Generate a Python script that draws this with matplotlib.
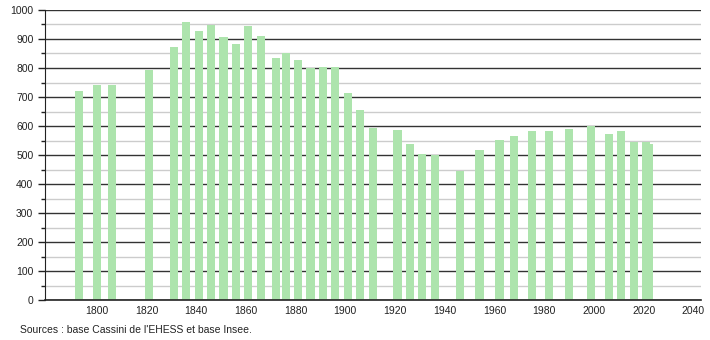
import matplotlib.pyplot as plt
from matplotlib.ticker import MultipleLocator

# census years and population
years = [1793, 1800, 1806, 1821, 1831, 1836, 1841, 1846, 1851, 1856,
         1861, 1866, 1872, 1876, 1881, 1886, 1891, 1896, 1901, 1906,
         1911, 1921, 1926, 1931, 1936, 1946, 1954, 1962, 1968, 1975,
         1982, 1990, 1999, 2006, 2011, 2016, 2021, 2022]
population = [722, 741, 741, 793, 871, 957, 926, 947, 906, 883,
              946, 911, 834, 851, 826, 799, 802, 802, 713, 655,
              594, 586, 538, 503, 499, 446, 517, 552, 566, 583,
              583, 588, 600, 572, 583, 546, 546, 538]

x_ticks = [1800, 1820, 1840, 1860, 1880, 1900, 1920, 1940, 1960, 1980, 2000, 2020, 2040]
source = "Sources : base Cassini de l'EHESS et base Insee."

plt.rcParams['font.family'] = ['Liberation Sans', 'DejaVu Sans']

fig = plt.figure(figsize=(7.1, 3.4), dpi=100, facecolor='w')
ax = fig.add_axes([0.0627, 0.1176, 0.9243, 0.853])
ax.set_axisbelow(True)

ax.bar(years, population, width=3.3, color='#ade4ad', linewidth=0)

ax.set_xlim(1779, 2043)
ax.set_ylim(0, 1000)
ax.set_xticks(x_ticks)
ax.yaxis.set_major_locator(MultipleLocator(100))
ax.yaxis.set_minor_locator(MultipleLocator(50))

ax.grid(True, axis='y', which='major', color='#333333', lw=1)
ax.grid(True, axis='y', which='minor', color='#cccccc', lw=1)

ax.tick_params(axis='x', length=0, pad=4, labelsize=7.5, colors='#222222')
ax.tick_params(axis='y', which='major', length=5, width=1, pad=3, labelsize=7.5, colors='#222222')
ax.tick_params(axis='y', which='minor', length=3, width=1, colors='#222222')

for spine in ('top', 'right'):
    ax.spines[spine].set_visible(False)
ax.spines['left'].set_color('#222222')
ax.spines['bottom'].set_color('#222222')
ax.spines['bottom'].set_linewidth(1.2)

fig.text(0.028, 0.022, source, fontsize=7.5, color='#222222')

fig.savefig('out.png', dpi=100)
